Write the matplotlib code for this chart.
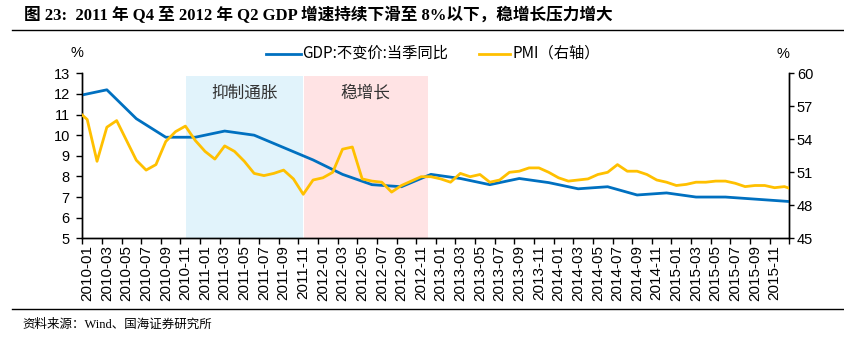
import matplotlib
matplotlib.use('Agg')
import matplotlib.pyplot as plt
from matplotlib.lines import Line2D

# ---------------- data ----------------
pmi_months = ['2009-12'] + [f'{y}-{m:02d}' for y in range(2010, 2016) for m in range(1, 13)] + ['2016-01']
pmi_values = [56.6,
              55.8, 52.0, 55.1, 55.7, 53.9, 52.1, 51.2, 51.7, 53.8, 54.7, 55.2, 53.9,
              52.9, 52.2, 53.4, 52.9, 52.0, 50.9, 50.7, 50.9, 51.2, 50.4, 49.0, 50.3,
              50.5, 51.0, 53.1, 53.3, 50.4, 50.2, 50.1, 49.2, 49.8, 50.2, 50.6, 50.6,
              50.4, 50.1, 50.9, 50.6, 50.8, 50.1, 50.3, 51.0, 51.1, 51.4, 51.4, 51.0,
              50.5, 50.2, 50.3, 50.4, 50.8, 51.0, 51.7, 51.1, 51.1, 50.8, 50.3, 50.1,
              49.8, 49.9, 50.1, 50.1, 50.2, 50.2, 50.0, 49.7, 49.8, 49.8, 49.6, 49.7,
              49.4]

gdp_quarters = ['2009-12'] + [f'{y}-{m:02d}' for y in range(2010, 2016) for m in (3, 6, 9, 12)] + ['2016-03']
gdp_values = [11.9,
              12.2, 10.8, 9.9, 9.9,
              10.2, 10.0, 9.4, 8.8,
              8.1, 7.6, 7.5, 8.1,
              7.9, 7.6, 7.9, 7.7,
              7.4, 7.5, 7.1, 7.2,
              7.0, 7.0, 6.9, 6.8,
              6.7]

tick_labels = [f'{y}-{m:02d}' for y in range(2010, 2016) for m in range(1, 13, 2)]

shade_periods = [('2010-11', '2011-11', '#E1F3FB', '抑制通胀'),
                 ('2011-11', '2012-12', '#FFE3E4', '稳增长')]

title = '图 23:  2011 年 Q4 至 2012 年 Q2 GDP 增速持续下滑至 8%以下，稳增长压力增大'
source = '资料来源：Wind、国海证券研究所'
gdp_name = 'GDP:不变价:当季同比'
pmi_name = 'PMI（右轴）'


def mpos(s):
    """slot-centre position of a month on the axis (0 = start of 2010-01)"""
    y, m = s.split('-')
    return (int(y) - 2010) * 12 + int(m) - 1 + 0.5


# ---------------- figure ----------------
W, H = 845, 339
fig = plt.figure(figsize=(W / 100, H / 100), dpi=100)
fig.patch.set_facecolor('white')

L, R, T, B = 82.3, 789.3, 73.3, 238.3
ax = fig.add_axes([L / W, 1 - B / H, (R - L) / W, (B - T) / H])
ax2 = ax.twinx()

CJK = ['Noto Sans CJK SC', 'DejaVu Sans']
NUM = ['Liberation Sans', 'DejaVu Sans']

ax.set_xlim(0, 72)
ax.set_ylim(5, 13)
ax2.set_ylim(45, 60)

# shaded periods
for (s0, s1, col, lab) in shade_periods:
    x0 = mpos(s0) + 0.05
    x1 = mpos(s1) - 0.3 if s1 == '2012-12' else mpos(s1)
    ax.axvspan(x0, x1, ymin=0, ymax=(12.85 - 5) / 8, color=col, lw=0, zorder=0)
    ax.text((x0 + x1) / 2, 12.03, lab, ha='center', va='center', fontsize=12,
            family=CJK, color='#333333', zorder=1)

gx = [mpos(q) for q in gdp_quarters]
px = [mpos(m) for m in pmi_months]
ax.plot(gx, gdp_values, color='#0070C0', lw=2.0, solid_joinstyle='round', zorder=3)
ax2.plot(px, pmi_values, color='#FFC000', lw=2.0, solid_joinstyle='round', zorder=3)

for a in (ax, ax2):
    a.spines['top'].set_visible(False)
    for s in ('left', 'right', 'bottom'):
        a.spines[s].set_color('black')
        a.spines[s].set_linewidth(1.0)
    a.patch.set_visible(False)

ax.set_yticks(range(5, 14))
ax2.set_yticks(range(45, 61, 3))
ax.tick_params(axis='y', direction='out', length=4, width=1, pad=5, labelsize=10.5)
ax2.tick_params(axis='y', direction='out', length=3.5, width=1, pad=2, labelsize=10.5)
for lab in ax.get_yticklabels() + ax2.get_yticklabels():
    lab.set_family(NUM)

ax.set_xticks(range(0, 73, 2))
ax.set_xticklabels([])
ax.set_xticks([mpos(t) for t in tick_labels], tick_labels, minor=True)
ax.tick_params(axis='x', which='major', direction='out', length=4, width=1)
ax.tick_params(axis='x', which='minor', length=0, pad=5, labelsize=11, rotation=90)
for lab in ax.get_xticklabels(minor=True):
    lab.set_family(NUM)
ax2.tick_params(axis='x', which='both', length=0)

# percent labels
fig.text(77.3 / W, 1 - 52.7 / H, '%', ha='center', va='center', fontsize=10.5, family=NUM)
fig.text(783 / W, 1 - 54 / H, '%', ha='center', va='center', fontsize=10.5, family=NUM)

# legend (manual)
ly = 1 - 53.5 / H
fig.add_artist(Line2D([266 / W, 301 / W], [ly, ly], color='#0070C0', lw=2.0))
fig.text(302.5 / W, ly, gdp_name, ha='left', va='center', fontsize=11, family=CJK)
fig.add_artist(Line2D([479 / W, 510 / W], [ly, ly], color='#FFC000', lw=2.0))
fig.text(512.5 / W, ly, pmi_name, ha='left', va='center', fontsize=11, family=CJK)

# title and separators
fig.text(24 / W, 1 - 15.5 / H, title, ha='left', va='center', fontsize=12,
         fontweight='bold', family=['Liberation Serif', 'Noto Sans CJK SC'])
fig.add_artist(Line2D([12 / W, 1.0], [1 - 30 / H, 1 - 30 / H], color='black', lw=1.0))
fig.add_artist(Line2D([12 / W, 1.0], [1 - 309 / H, 1 - 309 / H], color='black', lw=1.0))
fig.text(22 / W, 1 - 325 / H, source, ha='left', va='center', fontsize=9,
         family=['Liberation Serif', 'Noto Sans CJK SC'])

fig.savefig('out.png', dpi=100)
